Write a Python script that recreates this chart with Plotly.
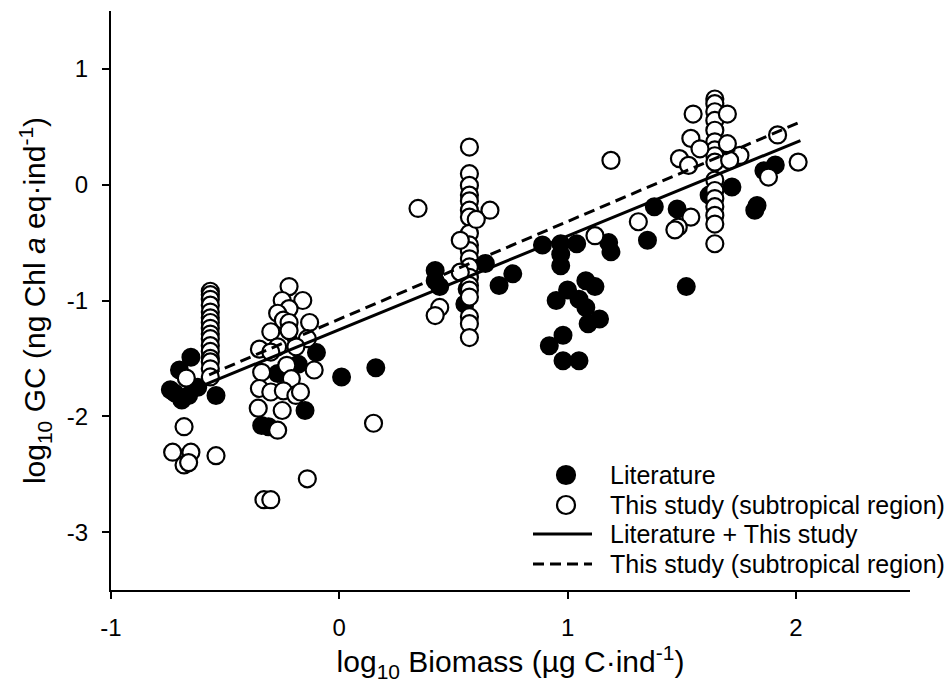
import plotly.graph_objects as go

# Literature data: log10 biomass (x) and log10 gut content (y)
lit_x = [-0.74, -0.72, -0.70, -0.69, -0.66, -0.65, -0.62, -0.54,
         -0.34, -0.31, -0.27, -0.18, -0.15, -0.10, 0.01, 0.16,
         0.42, 0.42, 0.44, 0.55, 0.56, 0.64, 0.70, 0.76,
         0.89, 0.97, 1.04, 0.97, 0.97, 1.18, 1.19, 1.35,
         1.08, 1.12, 1.00, 0.95, 1.05, 1.08, 1.09, 1.14,
         0.98, 0.92, 0.98, 1.05,
         1.38, 1.48, 1.62, 1.72, 1.82, 1.83, 1.86, 1.91, 1.52]
lit_y = [-1.77, -1.80, -1.60, -1.86, -1.82, -1.49, -1.75, -1.82,
         -2.08, -2.09, -1.63, -1.55, -1.95, -1.45, -1.66, -1.58,
         -0.74, -0.83, -0.88, -1.03, -0.90, -0.68, -0.87, -0.77,
         -0.52, -0.51, -0.51, -0.60, -0.70, -0.50, -0.58, -0.48,
         -0.83, -0.88, -0.91, -1.00, -0.99, -1.06, -1.20, -1.16,
         -1.30, -1.39, -1.52, -1.52,
         -0.19, -0.21, -0.09, -0.02, -0.22, -0.18, 0.12, 0.17, -0.88]

# This study (subtropical region)
sub_x = ([-0.565] * 16
         + [-0.67, -0.68, -0.73, -0.65, -0.68, -0.66, -0.54]
         + [-0.22, -0.25, -0.16, -0.22, -0.27, -0.245, -0.22, -0.13, -0.22, -0.30,
            -0.14, -0.35, -0.27, -0.19, -0.30, -0.34, -0.23, -0.11, -0.21, -0.35,
            -0.30, -0.245, -0.19, -0.17, -0.355, -0.25, -0.27, -0.14, -0.33, -0.30, 0.15]
         + [0.57] * 19
         + [0.345, 0.66, 0.53, 0.53, 0.44, 0.42, 0.60]
         + [1.645] * 16
         + [1.55, 1.70, 1.54, 1.58, 1.49, 1.53, 1.70, 1.755, 1.71, 1.92, 2.01, 1.88,
            1.54, 1.485, 1.47, 1.19, 1.31, 1.12])
sub_y = ([-0.92, -0.95, -0.99, -1.04, -1.10, -1.15, -1.19, -1.24, -1.29, -1.33,
          -1.39, -1.44, -1.50, -1.53, -1.59, -1.66]
         + [-1.67, -2.09, -2.31, -2.31, -2.42, -2.40, -2.34]
         + [-0.88, -1.00, -1.00, -1.07, -1.11, -1.17, -1.19, -1.19, -1.26, -1.27,
            -1.33, -1.42, -1.40, -1.40, -1.445, -1.62, -1.56, -1.60, -1.675, -1.76,
            -1.79, -1.78, -1.82, -1.79, -1.93, -1.95, -2.12, -2.54, -2.72, -2.72, -2.06]
         + [0.325, 0.095, -0.006, -0.09, -0.14, -0.22, -0.28, -0.42, -0.52, -0.57,
            -0.64, -0.71, -0.80, -0.87, -0.91, -0.97, -1.14, -1.20, -1.32]
         + [-0.205, -0.22, -0.48, -0.755, -1.06, -1.13, -0.30]
         + [0.74, 0.70, 0.63, 0.555, 0.47, 0.37, 0.30, 0.25, 0.195, 0.04,
            -0.05, -0.12, -0.19, -0.265, -0.34, -0.51]
         + [0.61, 0.61, 0.40, 0.31, 0.225, 0.167, 0.354, 0.253, 0.21, 0.43, 0.195, 0.066,
            -0.28, -0.366, -0.39, 0.21, -0.32, -0.44])

# Regression fits: slope, intercept and x extent
fit_all = {"slope": 0.808, "intercept": -1.251, "x": [-0.74, 2.02]}
fit_sub = {"slope": 0.843, "intercept": -1.161, "x": [-0.57, 2.02]}

x_ticks = [-1, 0, 1, 2]
x_tick_text = ["-1", "0", "1", "2"]
y_ticks = [-3, -2, -1, 0, 1]
y_tick_text = ["-3", "-2", "-1", "0", "1"]

legend_labels = ["Literature", "This study (subtropical region)",
                 "Literature + This study", "This study (subtropical region)"]

FONT = "Liberation Sans, Arial, sans-serif"
W, H = 952, 693
ML, MR, MT, MB = 111, 42, 11, 103
PW, PH = W - ML - MR, H - MT - MB
DASH = "11px,6px"


def px_to_paper(px, py):
    return (px - ML) / PW, (H - MB - py) / PH


fig = go.Figure()

fig.add_trace(go.Scatter(
    x=lit_x, y=lit_y, mode="markers", name=legend_labels[0],
    marker=dict(size=17, color="black", line=dict(color="black", width=2)),
    showlegend=False))
fig.add_trace(go.Scatter(
    x=sub_x, y=sub_y, mode="markers", name=legend_labels[1],
    marker=dict(size=17, color="white", line=dict(color="black", width=2.2)),
    showlegend=False))

for fit, dash in ((fit_all, "solid"), (fit_sub, DASH)):
    xs = fit["x"]
    ys = [fit["slope"] * v + fit["intercept"] for v in xs]
    fig.add_trace(go.Scatter(x=xs, y=ys, mode="lines", showlegend=False,
                             line=dict(color="black", width=3, dash=dash)))

# Legend, drawn by hand
rows_py = [475, 505, 534, 564]
marker_px = 566
line_px = (533, 592)
text_px = 608
shapes = []
annotations = []
for i, py in enumerate(rows_py):
    if i < 2:
        cx, cy = px_to_paper(marker_px, py)
        shapes.append(dict(type="circle", xref="paper", yref="paper",
                           xsizemode="pixel", ysizemode="pixel",
                           xanchor=cx, yanchor=cy, x0=-9, x1=9, y0=-9, y1=9,
                           fillcolor="black" if i == 0 else "white",
                           line=dict(color="black", width=2.2)))
    else:
        x0, y0 = px_to_paper(line_px[0], py)
        x1, _ = px_to_paper(line_px[1], py)
        shapes.append(dict(type="line", xref="paper", yref="paper",
                           x0=x0, x1=x1, y0=y0, y1=y0,
                           line=dict(color="black", width=3,
                                     dash="solid" if i == 2 else DASH)))
    tx, ty = px_to_paper(text_px, py)
    annotations.append(dict(xref="paper", yref="paper", x=tx, y=ty,
                            xanchor="left", yanchor="middle", showarrow=False,
                            text=legend_labels[i],
                            font=dict(family=FONT, size=25, color="black")))

fig.update_layout(
    width=W, height=H, autosize=False,
    margin=dict(l=ML, r=MR, t=MT, b=MB),
    paper_bgcolor="white", plot_bgcolor="white",
    font=dict(family=FONT, color="black"),
    shapes=shapes, annotations=annotations,
    xaxis=dict(range=[-1, 2.5], showgrid=False, zeroline=False,
               showline=True, linecolor="black", linewidth=2,
               ticks="outside", ticklen=7, tickwidth=2, tickcolor="black",
               tickvals=x_ticks, ticktext=x_tick_text,
               tickfont=dict(family=FONT, size=24), ticklabelstandoff=8,
               title=dict(text="log<sub>10</sub> Biomass (µg C·ind<sup>-1</sup>)",
                          font=dict(family=FONT, size=30), standoff=3)),
    yaxis=dict(range=[-3.5, 1.5], showgrid=False, zeroline=False,
               showline=True, linecolor="black", linewidth=2,
               ticks="outside", ticklen=7, tickwidth=2, tickcolor="black",
               tickvals=y_ticks, ticktext=y_tick_text,
               tickfont=dict(family=FONT, size=24), ticklabelstandoff=9,
               title=dict(text="log<sub>10</sub> GC (ng Chl <i>a</i> eq·ind<sup>-1</sup>)",
                          font=dict(family=FONT, size=30), standoff=12)),
)

fig.write_html("out.html")
